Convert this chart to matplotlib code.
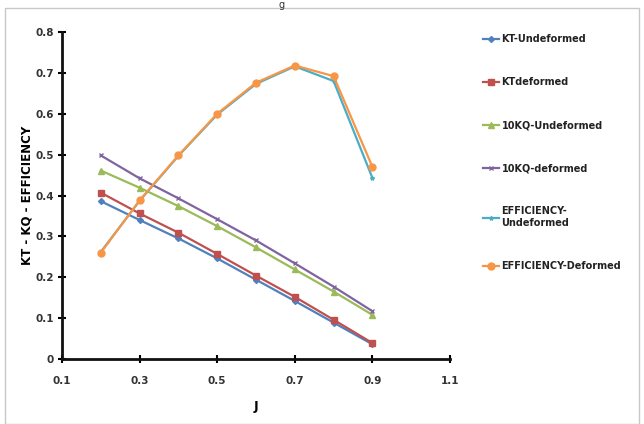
import matplotlib
matplotlib.use('Agg')
import matplotlib.pyplot as plt
from matplotlib.patches import Rectangle

# Datos
J = [0.2, 0.3, 0.4, 0.5, 0.6, 0.7, 0.8, 0.9]
kt_undef = [0.386, 0.340, 0.295, 0.246, 0.194, 0.142, 0.089, 0.036]
kt_def = [0.407, 0.356, 0.309, 0.257, 0.204, 0.152, 0.096, 0.039]
kq10_undef = [0.461, 0.419, 0.374, 0.325, 0.273, 0.219, 0.165, 0.108]
kq10_def = [0.498, 0.442, 0.393, 0.342, 0.290, 0.234, 0.177, 0.117]
eff_undef = [0.262, 0.387, 0.497, 0.598, 0.673, 0.716, 0.680, 0.443]
eff_def = [0.260, 0.388, 0.498, 0.600, 0.676, 0.718, 0.692, 0.470]

labels = ['KT-Undeformed', 'KTdeformed', '10KQ-Undeformed', '10KQ-deformed',
          'EFFICIENCY-\nUndeformed', 'EFFICIENCY-Deformed']
colors = ['#4F81BD', '#C0504D', '#9BBB59', '#8064A2', '#4BACC6', '#F79646']
markers = ['D', 's', '^', 'x', '*', 'o']
msizes = [3, 4.5, 4.5, 3, 3, 5]

fig = plt.figure(figsize=(6.44, 4.24), dpi=100)
ax = fig.add_axes([62 / 644, 1 - 359 / 424, (450 - 62) / 644, (359 - 32) / 424])

# Marco exterior
fig.patches.append(Rectangle((5 / 644, 0), 634 / 644, 1 - 8 / 424, transform=fig.transFigure,
                             fill=False, edgecolor='#c8c8c8', linewidth=1.0))
fig.text(282 / 644, 1.0, 'g', ha='center', va='top', fontsize=7, color='#333333')

series = [kt_undef, kt_def, kq10_undef, kq10_def, eff_undef, eff_def]
for y, lab, c, m, ms in zip(series, labels, colors, markers, msizes):
    ax.plot(J, y, color=c, marker=m, markersize=ms, linewidth=1.6, label=lab,
            markeredgecolor=c)

ax.set_xlim(0.1, 1.1)
ax.set_ylim(0, 0.8)
ax.set_xticks([0.1, 0.3, 0.5, 0.7, 0.9, 1.1])
ax.set_yticks([0, 0.1, 0.2, 0.3, 0.4, 0.5, 0.6, 0.7, 0.8])
ax.set_xticklabels(['0.1', '0.3', '0.5', '0.7', '0.9', '1.1'])
ax.set_yticklabels(['0', '0.1', '0.2', '0.3', '0.4', '0.5', '0.6', '0.7', '0.8'])

for s in ['top', 'right']:
    ax.spines[s].set_visible(False)
for s in ['left', 'bottom']:
    ax.spines[s].set_linewidth(2.0)
    ax.spines[s].set_color('#111111')
ax.tick_params(direction='inout', length=6, width=1.5, labelsize=7.5,
               labelcolor='#333333', pad=3)
ax.tick_params(axis='x', pad=9)
for t in ax.get_xticklabels() + ax.get_yticklabels():
    t.set_fontweight('bold')

ax.set_xlabel('J', fontsize=9, fontweight='bold', labelpad=10)
ax.set_ylabel('KT - KQ - EFFICIENCY', fontsize=8.5, fontweight='bold', labelpad=1)

leg = ax.legend(loc='upper left', bbox_to_anchor=(1.075, 1.005), frameon=False,
                fontsize=7, handlelength=1.6, handletextpad=0.3,
                labelspacing=3.4, borderaxespad=0)
for t in leg.get_texts():
    t.set_fontweight('bold')
    t.set_color('#222222')

fig.savefig('out.png', dpi=100)
